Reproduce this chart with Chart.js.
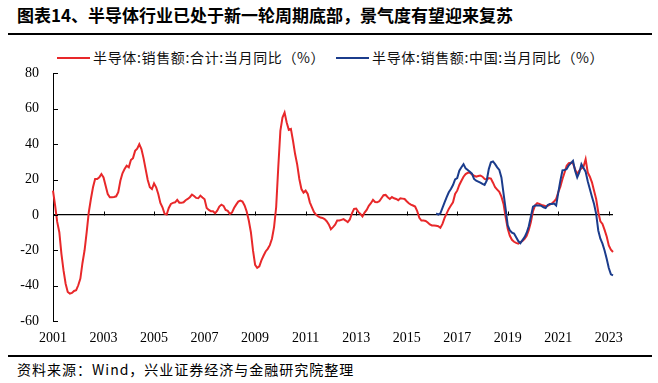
<!DOCTYPE html>
<html>
<head>
<meta charset="utf-8">
<script src="https://cdn.jsdelivr.net/npm/chart.js@4"></script>
<style>
  body { margin: 0; background: #fff; width: 658px; height: 383px; position: relative; overflow: hidden; }
  .title { position: absolute; left: 17px; top: 4px; font: bold 17px "Noto Sans CJK SC", sans-serif; line-height: 22px; color: #000; white-space: nowrap; }
  .rule { position: absolute; left: 8px; width: 644px; height: 1.5px; background: #000; }
  .legend { position: absolute; top: 48px; left: 0; font: 14px "Noto Sans CJK SC", sans-serif; line-height: 18px; color: #111; white-space: nowrap; letter-spacing: 0.65px; }
  .legend span.item { position: absolute; top: 0; }
  .legend i { display: inline-block; width: 33px; height: 2px; vertical-align: middle; margin-right: 3px; position: relative; top: -1px; }
  .source { position: absolute; left: 17px; top: 360px; font: 14px "Noto Sans CJK SC", sans-serif; line-height: 18px; color: #000; white-space: nowrap; letter-spacing: 1px; }
  #chart { position: absolute; left: 0; top: 51px; }
</style>
</head>
<body>
<div class="title">图表14、半导体行业已处于新一轮周期底部，景气度有望迎来复苏</div>
<div class="rule" style="top:33px"></div>
<div class="legend" id="legend"></div>
<canvas id="chart" width="658" height="297"></canvas>
<div class="rule" style="top:355px"></div>
<div class="source">资料来源：Wind，兴业证券经济与金融研究院整理</div>
<script>
// 月度数据：2001-01 至 2023-03
const startYear = 2001;
const monthCount = 267;
const months = [];
for (let i = 0; i < monthCount; i++) {
    const yr = startYear + Math.floor(i / 12);
    const mo = (i % 12) + 1;
    months.push(yr + '-' + (mo < 10 ? '0' + mo : mo));
}

// 半导体:销售额:合计:当月同比（%）
const totalYoY = [
    13.7, 5.3, -4, -9.8, -22, -31.4, -38.9, -43.6, -44.5, -44.1, -43, -42.6,
    -39.8, -36, -27.2, -20, -9.8, 1.5, 9, 15.6, 20.3, 20.3, 21.2, 23.1,
    21.2, 16.5, 11.8, 10, 10, 10.1, 10.5, 12.8, 19.3, 23.5, 25.9, 27.8,
    26.9, 31, 32.1, 36.2, 37.4, 40, 37.2, 32.1, 25.9, 19.7, 15.6, 14.6,
    17.8, 15.6, 11.8, 6.8, 4.3, 0.6, 0.2, 3.9, 6.2, 6.8, 7.1, 8.5,
    6.9, 6.8, 7.1, 8.3, 9, 10, 11.5, 10.7, 9.6, 9.4, 10.9, 9.8,
    8.8, 3.9, 2.8, 2.1, 2.1, 0.9, 2.4, 4.7, 5.8, 5.1, 2.8, 2.3,
    0.6, 1.3, 3.9, 5.8, 7.5, 8.1, 7.5, 5.3, 1.9, -3.2, -9.8, -20.1,
    -28.2, -29.9, -29.1, -25.7, -23.1, -20.7, -19.2, -17.1, -13.5, -6.9, 4.3, 26.9,
    47.5, 55, 57.8, 52.2, 48.1, 48.6, 41.9, 34.4, 28.4, 20.3, 14.6, 12.6,
    13.7, 11.8, 7.1, 4.3, 1.5, 0, -0.9, -1.5, -1.7, -2.4, -3.6, -5.4,
    -8.1, -6.9, -5.6, -3.2, -3.2, -2.8, -2.4, -3.2, -4.1, -2.6, 0.9, 3.4,
    3.6, 1.7, 0.6, -0.9, 1.3, 2.8, 5.1, 6.6, 8.5, 7.3, 7.1, 7.7,
    9.4, 11.1, 11.3, 10, 9, 10.1, 9.4, 9, 8.3, 9.4, 9.2, 9,
    7.7, 6.6, 5.8, 5.3, 4.7, 2.1, -1.7, -3.2, -3.2, -3.4, -4.3, -5.4,
    -6, -6, -6.2, -6.4, -7.3, -5.1, -1.7, 0.9, 3.4, 5.3, 7.1, 11.8,
    13.7, 16.9, 19.3, 21.6, 23.1, 23.8, 23.8, 22.9, 22.2, 21.6, 22, 22.3,
    21.6, 20.3, 19.9, 20.8, 20.5, 18.2, 15.6, 14.3, 13, 10.3, 6.2, -1.3,
    -7.9, -11.8, -14.1, -15.2, -15.8, -16.3, -15.4, -14.8, -13.5, -11.8, -8.5, -4.1,
    2.1, 5.4, 6.6, 6.2, 5.6, 5.3, 4.9, 5.1, 5.8, 6.6, 7.5, 9,
    12.8, 16, 20.3, 24, 27.8, 29.3, 29.5, 29.1, 25.7, 23.1, 25, 26.3,
    27.2, 31.5, 24, 21.6, 18.4, 13.7, 9, 1.5, -3.6, -5.1, -8.5, -12.2,
    -17.3, -19.7, -21
];

// 半导体:销售额:中国:当月同比（%），从 2016-03 开始
const chinaStart = '2016-03';
const chinaYoY = [
    0.8, 0.2, 0.9, 3.9, 7.1, 10, 12.8, 14.6, 16.9, 20.1,
    20.8, 25, 26.9, 28.7, 26.3, 25.4, 24.4, 23.3, 20.3, 19.3, 18.8, 18.2,
    17.5, 16.9, 19.3, 25.9, 29.7, 30.2, 28.7, 26.9, 25.4, 21.2, 12.2, 3.4,
    -6, -8.8, -10, -10.5, -12.6, -14.8, -16, -14.3, -12.6, -10.1, -6.4, -0.9,
    4.7, 5.3, 5.3, 5.3, 5.1, 4.3, 3.9, 5.6, 6.2, 6.2, 6.4, 5.3,
    12.6, 19.3, 25.2, 25.4, 25.9, 28, 29.3, 30.6, 25, 21.2, 24, 28.7,
    26.5, 24.4, 19, 14.6, 10.3, 6.2, 0.6, -8.8, -13.5, -16.3, -20.1, -24.8,
    -30, -33.6, -34.2
];

const seriesNames = ['半导体:销售额:合计:当月同比（%）', '半导体:销售额:中国:当月同比（%）'];
const seriesColors = ['#e8282a', '#1b3c8c'];
const yTicks = { min: -60, max: 80, step: 20 };

// 只在奇数年的1月显示年份
function yearLabel(lab) {
    const parts = lab.split('-');
    const yr = +parts[0];
    return (parts[1] === '01' && (yr - startYear) % 2 === 0) ? String(yr) : '';
}

const chinaData = months.map(m => null);
const chinaOffset = months.indexOf(chinaStart);
chinaYoY.forEach((v, i) => { chinaData[chinaOffset + i] = v; });

// 零轴上的刻度和y轴内侧刻度
const axisMarks = {
    id: 'axisMarks',
    afterDatasetsDraw(chart) {
        const ctx = chart.ctx;
        const x = chart.scales.x;
        const y = chart.scales.y;
        const zero = Math.round(y.getPixelForValue(0)) + 0.5;
        ctx.save();
        ctx.strokeStyle = '#000';
        ctx.lineWidth = 1;
        ctx.beginPath();
        months.forEach((lab, i) => {
            if (yearLabel(lab)) {
                const px = Math.round(x.getPixelForValue(i)) + 0.5;
                ctx.moveTo(px, zero);
                ctx.lineTo(px, zero - 4);
            }
        });
        y.ticks.forEach(t => {
            const py = Math.round(y.getPixelForValue(t.value)) + 0.5;
            ctx.moveTo(y.right, py);
            ctx.lineTo(y.right + 5, py);
        });
        ctx.stroke();
        ctx.restore();
    }
};

const ctx = document.getElementById('chart').getContext('2d');
const chart = new Chart(ctx, {
    type: 'line',
    data: {
        labels: months,
        datasets: [{
            label: seriesNames[0],
            data: totalYoY,
            borderColor: seriesColors[0],
            backgroundColor: seriesColors[0],
            borderWidth: 2,
            pointRadius: 0,
            tension: 0,
            order: 1
        }, {
            label: seriesNames[1],
            data: chinaData,
            borderColor: seriesColors[1],
            backgroundColor: seriesColors[1],
            borderWidth: 2,
            pointRadius: 0,
            tension: 0,
            spanGaps: false,
            order: 0
        }]
    },
    options: {
        responsive: false,
        animation: false,
        layout: { padding: { top: 0, right: 45, bottom: 0, left: 0 } },
        plugins: {
            legend: { display: false },
            tooltip: { enabled: false }
        },
        scales: {
            x: {
                type: 'category',
                grid: { display: false, drawTicks: false },
                border: { display: false },
                afterFit(scale) { scale.height = 27; },
                ticks: {
                    autoSkip: false,
                    maxRotation: 0,
                    minRotation: 0,
                    padding: 9,
                    color: '#000',
                    font: { family: '"Liberation Serif", "Times New Roman", serif', size: 14 },
                    callback(value) { return yearLabel(this.getLabelForValue(value)); }
                }
            },
            y: {
                min: yTicks.min,
                max: yTicks.max,
                afterFit(scale) { scale.width = 53; },
                border: { display: true, color: '#000', width: 1 },
                grid: {
                    drawTicks: false,
                    color: c => (c.tick && c.tick.value === 0) ? '#000' : 'rgba(0,0,0,0)',
                    lineWidth: 1.3
                },
                ticks: {
                    stepSize: yTicks.step,
                    padding: 14,
                    color: '#000',
                    font: { family: '"Liberation Serif", "Times New Roman", serif', size: 14 }
                }
            }
        }
    },
    plugins: [axisMarks]
});

// 图例
const legendPos = [57, 336];
const legend = document.getElementById('legend');
chart.data.datasets.forEach((ds, i) => {
    const item = document.createElement('span');
    item.className = 'item';
    item.style.left = legendPos[i] + 'px';
    item.innerHTML = '<i style="background:' + ds.borderColor + '"></i>' + ds.label;
    legend.appendChild(item);
});
</script>
</body>
</html>
